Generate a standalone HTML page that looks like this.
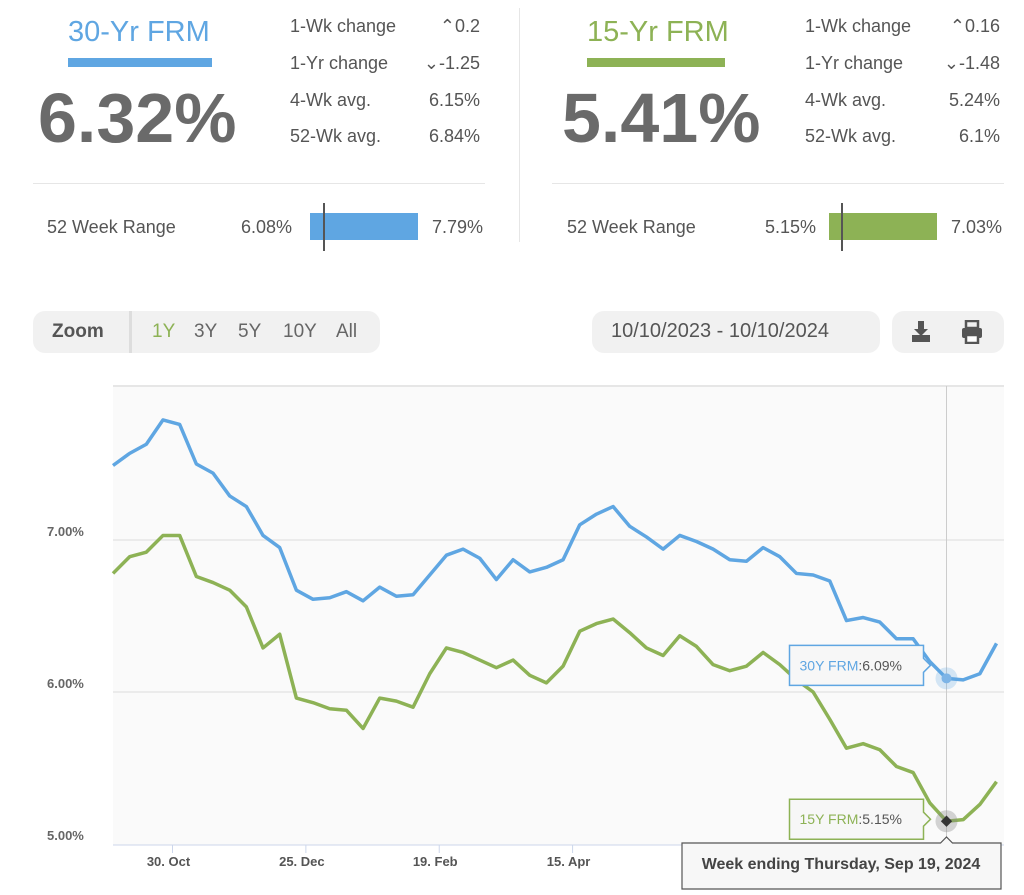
<!DOCTYPE html>
<html><head><meta charset="utf-8"><style>
*{margin:0;padding:0;box-sizing:border-box}
body{width:1024px;height:895px;background:#fff;font-family:"Liberation Sans",sans-serif;color:#555;position:relative;overflow:hidden}
.a{position:absolute;white-space:nowrap}
.lbl{font-size:18px;color:#555}
.val{font-size:18px;color:#555;text-align:right}
.pill{position:absolute;background:#f1f1f1;border-radius:12px}
</style></head><body>
<!-- 30yr panel -->
<div class="a" style="left:68px;top:16px;font-size:29px;color:#5fa6e2">30-Yr FRM</div>
<div class="a" style="left:68px;top:58px;width:144px;height:9px;background:#5fa6e2"></div>
<div class="a" style="left:38px;top:78px;font-size:70px;font-weight:bold;color:#6a6a6a">6.32%</div>
<div class="a lbl" style="left:290px;top:16px">1-Wk change</div>
<div class="a val" style="left:380px;width:100px;top:16px">⌃0.2</div>
<div class="a lbl" style="left:290px;top:53px">1-Yr change</div>
<div class="a val" style="left:380px;width:100px;top:53px">⌄-1.25</div>
<div class="a lbl" style="left:290px;top:90px">4-Wk avg.</div>
<div class="a val" style="left:380px;width:100px;top:90px">6.15%</div>
<div class="a lbl" style="left:290px;top:126px">52-Wk avg.</div>
<div class="a val" style="left:380px;width:100px;top:126px">6.84%</div>
<div class="a" style="left:33px;top:183px;width:452px;height:1px;background:#e6e6e6"></div>
<div class="a lbl" style="left:47px;top:217px">52 Week Range</div>
<div class="a lbl" style="left:241px;top:217px">6.08%</div>
<div class="a" style="left:310px;top:213px;width:108px;height:27px;background:#5fa6e2"></div>
<div class="a" style="left:323px;top:203px;width:2px;height:48px;background:#555"></div>
<div class="a lbl" style="left:432px;top:217px">7.79%</div>
<div class="a" style="left:519px;top:8px;width:1px;height:234px;background:#e6e6e6"></div>
<!-- 15yr panel -->
<div class="a" style="left:587px;top:16px;font-size:29px;color:#8db255">15-Yr FRM</div>
<div class="a" style="left:587px;top:58px;width:138px;height:9px;background:#8db255"></div>
<div class="a" style="left:562px;top:78px;font-size:70px;font-weight:bold;color:#6a6a6a">5.41%</div>
<div class="a lbl" style="left:805px;top:16px">1-Wk change</div>
<div class="a val" style="left:900px;width:100px;top:16px">⌃0.16</div>
<div class="a lbl" style="left:805px;top:53px">1-Yr change</div>
<div class="a val" style="left:900px;width:100px;top:53px">⌄-1.48</div>
<div class="a lbl" style="left:805px;top:90px">4-Wk avg.</div>
<div class="a val" style="left:900px;width:100px;top:90px">5.24%</div>
<div class="a lbl" style="left:805px;top:126px">52-Wk avg.</div>
<div class="a val" style="left:900px;width:100px;top:126px">6.1%</div>
<div class="a" style="left:552px;top:183px;width:452px;height:1px;background:#e6e6e6"></div>
<div class="a lbl" style="left:567px;top:217px">52 Week Range</div>
<div class="a lbl" style="left:765px;top:217px">5.15%</div>
<div class="a" style="left:829px;top:213px;width:108px;height:27px;background:#8db255"></div>
<div class="a" style="left:841px;top:203px;width:2px;height:48px;background:#555"></div>
<div class="a lbl" style="left:951px;top:217px">7.03%</div>
<!-- controls -->
<div class="pill" style="left:33px;top:311px;width:347px;height:42px"></div>
<div class="a" style="left:52px;top:321px;font-size:19px;font-weight:bold;color:#555">Zoom</div>
<div class="a" style="left:129px;top:311px;width:3px;height:42px;background:#ddd"></div>
<div class="a" style="left:152px;top:321px;font-size:19px;color:#8db255">1Y</div>
<div class="a" style="left:194px;top:321px;font-size:19px;color:#666">3Y</div>
<div class="a" style="left:238px;top:321px;font-size:19px;color:#666">5Y</div>
<div class="a" style="left:283px;top:321px;font-size:19px;color:#666">10Y</div>
<div class="a" style="left:336px;top:321px;font-size:19px;color:#666">All</div>
<div class="pill" style="left:592px;top:311px;width:288px;height:42px"></div>
<div class="a" style="left:611px;top:320px;font-size:20px;color:#555">10/10/2023 - 10/10/2024</div>
<div class="pill" style="left:892px;top:311px;width:112px;height:42px"></div>
<svg class="a" style="left:910px;top:320px" width="22" height="24" viewBox="0 0 22 24"><path d="M8 1h6v8h4l-7 7-7-7h4z" fill="#555"/><rect x="2" y="15" width="18" height="7" fill="#555"/></svg>
<svg class="a" style="left:961px;top:320px" width="22" height="24" viewBox="0 0 22 24"><rect x="5" y="1" width="12" height="7" fill="none" stroke="#555" stroke-width="2.5"/><rect x="1" y="8" width="20" height="10" rx="2" fill="#555"/><rect x="5" y="15" width="12" height="8" fill="#fff" stroke="#555" stroke-width="2.5"/></svg>
<svg id="chart" class="a" style="left:0;top:0" width="1024" height="895"></svg>
<script>
const weeks=[0,1,2,3,4,5,6,7,8,9,10,11,12,13,14,15,16,17,18,19,20,21,22,23,24,25,26,27,28,29,30,31,32,33,34,35,36,37,38,39,40,41,42,43,44,45,46,47,48,49,50,51,52,53];
const frm30=[7.49,7.57,7.63,7.79,7.76,7.50,7.44,7.29,7.22,7.03,6.95,6.67,6.61,6.62,6.66,6.60,6.69,6.63,6.64,6.77,6.90,6.94,6.88,6.74,6.87,6.79,6.82,6.87,7.10,7.17,7.22,7.09,7.02,6.94,7.03,6.99,6.94,6.87,6.86,6.95,6.89,6.78,6.77,6.73,6.47,6.49,6.46,6.35,6.35,6.20,6.09,6.08,6.12,6.32];
const frm15=[6.78,6.89,6.92,7.03,7.03,6.76,6.72,6.67,6.56,6.29,6.38,5.96,5.93,5.89,5.88,5.76,5.96,5.94,5.90,6.12,6.29,6.26,6.21,6.16,6.21,6.11,6.06,6.17,6.40,6.45,6.48,6.39,6.29,6.24,6.37,6.30,6.18,6.14,6.17,6.26,6.18,6.08,6.00,5.82,5.63,5.66,5.62,5.51,5.47,5.27,5.15,5.16,5.26,5.41];
const yTicks=[5,6,7];
const yTickLabels=["5.00%","6.00%","7.00%"];
const xTickWeeks=[3.57,11.57,19.57,27.57];
const xTickLabels=["30. Oct","25. Dec","19. Feb","15. Apr"];
const hoverIdx=50;
const L=113,R=1004,T=386,B=845;
const x=w=>L+w*16.67;
const y=v=>540-(v-7)*152;
const svg=document.getElementById('chart');
const NS='http://www.w3.org/2000/svg';
function mk(tag,at,name){const e=document.createElementNS(NS,tag);for(const k in at)e.setAttribute(k,at[k]);


svg.appendChild(e);return e;}
mk('rect',{x:L,y:T,width:R-L,height:B-T,fill:'#fafafa'},'plot-background');
mk('line',{x1:L,x2:R,y1:T,y2:T,stroke:'#e6e6e6','stroke-width':2},'plot-top-border');
yTicks.forEach((t,i)=>{
 if(t>5){mk('line',{x1:L,x2:R,y1:y(t),y2:y(t),stroke:'#e6e6e6','stroke-width':1.5},'gridline');}
 const tx=mk('text',{x:47,y:y(t)-4,'font-size':13,'font-weight':'bold',fill:'#666','font-family':'Liberation Sans'},'y-tick-label');tx.textContent=yTickLabels[i];
});
mk('line',{x1:L,x2:R,y1:B,y2:B,stroke:'#ccd6eb','stroke-width':1},'x-axis-line');
xTickWeeks.forEach((w,i)=>{
 mk('line',{x1:x(w),x2:x(w),y1:B,y2:B+8,stroke:'#ccd6eb'},'x-tick');
 const tx=mk('text',{x:x(w)-4,y:866,'font-size':13,'font-weight':'bold',fill:'#555','text-anchor':'middle','font-family':'Liberation Sans'},'x-tick-label');tx.textContent=xTickLabels[i];
});
mk('line',{x1:x(hoverIdx),x2:x(hoverIdx),y1:T,y2:B,stroke:'#ccc','stroke-width':1},'crosshair');
mk('polyline',{points:weeks.map((w,i)=>x(w)+','+y(frm30[i])).join(' '),fill:'none',stroke:'#5fa6e2','stroke-width':3.5,'stroke-linejoin':'round'},'line-30yr');
mk('polyline',{points:weeks.map((w,i)=>x(w)+','+y(frm15[i])).join(' '),fill:'none',stroke:'#8db255','stroke-width':3.5,'stroke-linejoin':'round'},'line-15yr');
const hx=x(hoverIdx),hy30=y(frm30[hoverIdx]),hy15=y(frm15[hoverIdx]);
mk('circle',{cx:hx,cy:hy30,r:11,fill:'#5fa6e2',opacity:0.25},'hover-halo-30');
mk('circle',{cx:hx,cy:hy30,r:5,fill:'#7db4e6'},'hover-point-30');
mk('circle',{cx:hx,cy:hy15,r:11,fill:'#888',opacity:0.35},'hover-halo-15');
mk('rect',{x:hx-4,y:hy15-4,width:8,height:8,fill:'#333',transform:`rotate(45 ${hx} ${hy15})`},'hover-point-15');
function tip(yc,color,lab,val,name){
 const w=134,x0=hx-157;
 mk('path',{d:`M${x0} ${yc-20}h${w}v13l7 7-7 7v13h-${w}z`,fill:'#f7f7f7',stroke:color,'stroke-width':1.5},name+'-box');
 const t=mk('text',{x:x0+10,y:yc+5,'font-size':14,'font-family':'Liberation Sans',fill:'#555'},name+'-text');
 const s=document.createElementNS(NS,'tspan');s.setAttribute('fill',color);s.textContent=lab;t.appendChild(s);
 t.appendChild(document.createTextNode(val));
}
tip(hy30-13,'#5fa6e2','30Y FRM',':'+frm30[hoverIdx].toFixed(2)+'%','tooltip-30');
tip(hy15-2,'#8db255','15Y FRM',':'+frm15[hoverIdx].toFixed(2)+'%','tooltip-15');
mk('path',{d:`M682 843h${hx-6-682}l6 -6 6 6H1001v46H682z`,fill:'#f7f7f7',stroke:'#555','stroke-width':1.2},'date-tooltip-box');
const dt=mk('text',{x:841,y:869,'font-size':16,'font-weight':'bold',fill:'#444','text-anchor':'middle','font-family':'Liberation Sans'},'date-tooltip-text');
dt.textContent='Week ending Thursday, Sep 19, 2024';
</script>
</body></html>
